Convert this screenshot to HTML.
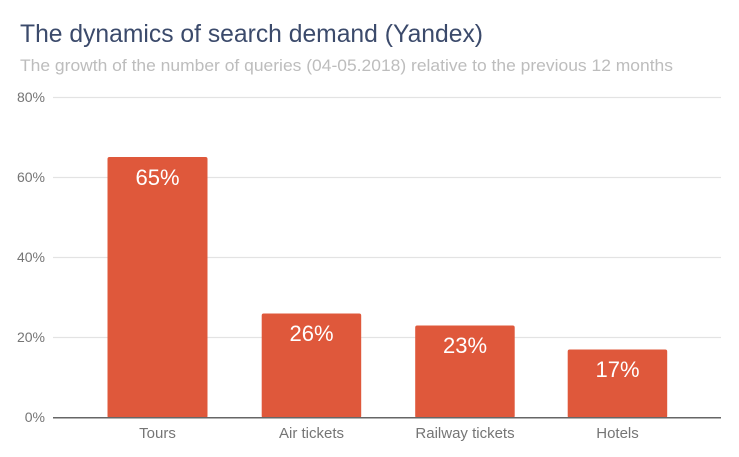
<!DOCTYPE html>
<html>
<head>
<meta charset="utf-8">
<style>
  html, body { margin: 0; padding: 0; background: #ffffff; }
  svg { display: block; }
  text { font-family: "Liberation Sans", Arial, sans-serif; }
</style>
</head>
<body>
<svg width="739" height="457" viewBox="0 0 739 457" xmlns="http://www.w3.org/2000/svg">
  <rect width="739" height="457" fill="#ffffff"/>
  <text x="20" y="42" font-size="25" fill="#3b4a6b" textLength="463" lengthAdjust="spacingAndGlyphs">The dynamics of search demand (Yandex)</text>
  <text x="20" y="71" font-size="17" fill="#bdbdbd" textLength="653" lengthAdjust="spacingAndGlyphs">The growth of the number of queries (04-05.2018) relative to the previous 12 months</text>

  <!-- gridlines -->
  <g stroke="#e3e3e3" stroke-width="1.2">
    <line x1="53" y1="97.5" x2="721" y2="97.5"/>
    <line x1="53" y1="177.5" x2="721" y2="177.5"/>
    <line x1="53" y1="257.5" x2="721" y2="257.5"/>
    <line x1="53" y1="337.5" x2="721" y2="337.5"/>
  </g>

  <!-- y tick labels -->
  <g font-size="14" fill="#757575" text-anchor="end">
    <text x="45" y="102">80%</text>
    <text x="45" y="182">60%</text>
    <text x="45" y="262">40%</text>
    <text x="45" y="342">20%</text>
    <text x="45" y="422">0%</text>
  </g>

  <!-- bars -->
  <g fill="#df583b">
    <rect x="107.5" y="157" width="100" height="261" rx="2"/>
    <rect x="261.7" y="313.5" width="99.5" height="104.5" rx="2"/>
    <rect x="415.2" y="325.5" width="99.5" height="92.5" rx="2"/>
    <rect x="567.7" y="349.5" width="99.5" height="68.5" rx="2"/>
  </g>

  <!-- zero line -->
  <line x1="53" y1="417.7" x2="721" y2="417.7" stroke="#666666" stroke-width="1.5"/>

  <!-- bar labels -->
  <g font-size="22" fill="#ffffff" text-anchor="middle">
    <text x="157.5" y="185">65%</text>
    <text x="311.5" y="341">26%</text>
    <text x="465" y="353">23%</text>
    <text x="617.5" y="377">17%</text>
  </g>

  <!-- category labels -->
  <g font-size="15" fill="#757575" text-anchor="middle">
    <text x="157.5" y="438">Tours</text>
    <text x="311.5" y="438">Air tickets</text>
    <text x="465" y="438">Railway tickets</text>
    <text x="617.5" y="438">Hotels</text>
  </g>
</svg>
</body>
</html>
